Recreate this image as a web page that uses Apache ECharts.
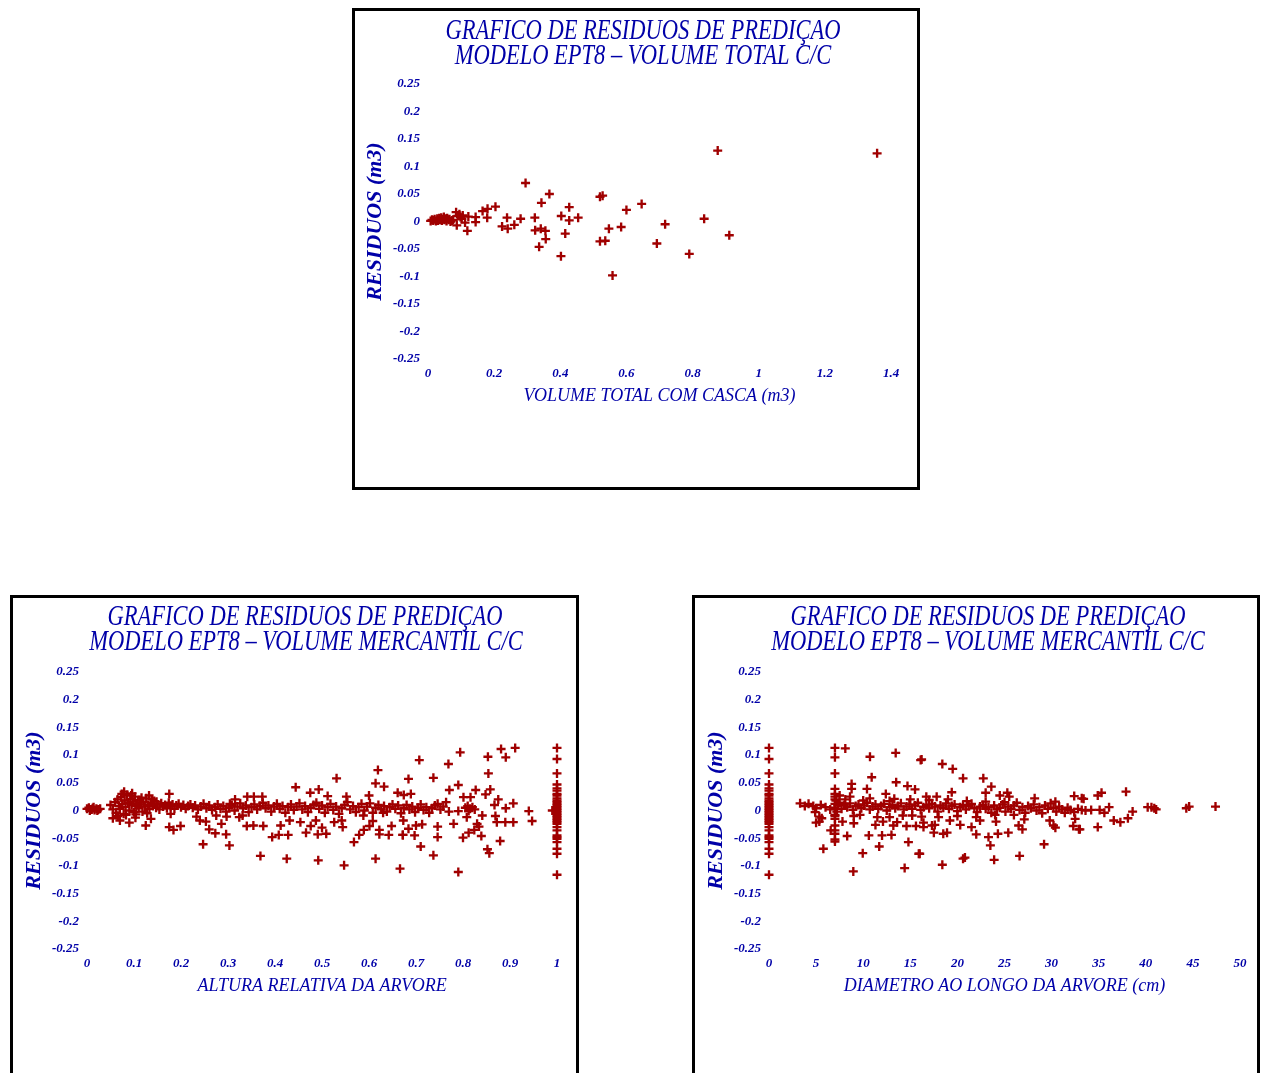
<!DOCTYPE html>
<html>
<head>
<meta charset="utf-8">
<title>Residuos de predicao EPT8</title>
<script src="https://cdn.jsdelivr.net/npm/echarts@6/dist/echarts.min.js"></script>
<style>
  html, body { margin: 0; padding: 0; background: #fff; }
  #main { width: 1261px; height: 1073px; }
</style>
</head>
<body>
<div id="main"></div>
<script>
// residuos do volume total c/c  [volume total com casca, residuo]
var volTotalResid = [
  [0.876,0.129],[1.358,0.124],[0.295,0.070],[0.367,0.050],[0.343,0.034],[0.427,0.026],[0.403,0.010],
  [0.427,0.002],[0.454,0.007],[0.520,0.045],[0.528,0.047],[0.600,0.021],[0.646,0.032],[0.717,-0.005],
  [0.835,0.005],[0.911,-0.025],[0.790,-0.059],[0.692,-0.040],[0.584,-0.010],[0.547,-0.013],[0.558,-0.098],
  [0.520,-0.036],[0.536,-0.035],[0.415,-0.022],[0.402,-0.063],[0.336,-0.046],[0.356,-0.032],[0.324,-0.016],
  [0.341,-0.013],[0.355,-0.017],[0.323,0.007],[0.280,0.005],[0.261,-0.006],[0.239,0.007],[0.241,-0.013],
  [0.224,-0.009],[0.204,0.027],[0.180,0.023],[0.165,0.019],[0.179,0.007],[0.144,0.008],[0.144,-0.001],
  [0.119,-0.017],[0.087,-0.007],[0.112,-0.002],[0.122,0.009],[0.085,0.017],[0.095,0.013],[0.102,0.005],
  [0.008,0.001],[0.012,0.003],[0.016,0.002],[0.020,0.004],[0.024,0.001],[0.028,0.005],[0.030,0.002],
  [0.034,0.006],[0.036,0.003],[0.040,0.007],[0.042,0.002],[0.045,0.004],[0.048,0.008],[0.050,0.003],
  [0.053,0.005],[0.056,0.001],[0.058,0.006],[0.062,0.003],[0.065,0.004],[0.068,0.000],[0.072,0.002],
  [0.076,0.003],[0.090,0.010],[0.098,0.008],[0.105,0.011]
];

// residuos do volume mercantil c/c pela altura relativa
var alturaCluster = [
  [0.000,0.003],[0.004,0.005],[0.008,0.002],[0.012,0.004],[0.016,0.001],[0.020,0.003],
  [0.024,0.002],[0.028,0.003],[0.006,0.000],[0.014,0.006],[0.022,0.000],[0.010,0.002]
];
var alturaBand = [
  [0.050,0.010],[0.055,0.002],[0.060,0.015],[0.062,-0.004],[0.065,0.020],[0.068,0.008],[0.070,0.003],
  [0.072,0.024],[0.075,0.012],[0.078,-0.006],[0.080,0.018],[0.082,0.006],[0.085,0.028],[0.087,0.014],
  [0.090,0.000],[0.092,0.021],[0.095,0.010],[0.098,0.016],[0.100,-0.003],[0.102,0.025],[0.105,0.008],
  [0.108,0.013],[0.110,0.004],[0.112,0.019],[0.115,0.011],[0.118,-0.002],[0.120,0.015],[0.123,0.007],
  [0.126,0.022],[0.130,0.010],[0.133,0.003],[0.136,0.014],[0.140,0.008],[0.143,0.017],[0.147,0.005],
  [0.150,0.011],[0.154,0.002],[0.158,0.013],[0.162,0.007],[0.166,0.010],[0.170,0.004],[0.174,0.014],
  [0.178,0.008],[0.182,0.011],[0.186,0.003],[0.190,0.009],[0.195,0.012],[0.200,0.006],[0.205,0.010],
  [0.210,0.003],[0.215,0.008],[0.220,0.011],[0.225,0.005],[0.230,0.009],[0.236,0.002],[0.242,0.007],
  [0.248,0.012],[0.254,0.004],[0.260,0.009],[0.266,0.001],[0.272,0.006],[0.278,0.011],[0.284,0.003],
  [0.290,0.008],[0.296,-0.002],[0.302,0.005],[0.308,0.010],[0.314,0.000],[0.320,0.007],[0.326,0.013],
  [0.332,0.004],[0.338,0.009],[0.344,-0.003],[0.350,0.006],[0.356,0.011],[0.362,0.002],[0.368,0.008],
  [0.374,0.014],[0.380,0.004],[0.386,0.009],[0.392,-0.002],[0.398,0.007],[0.404,0.012],[0.410,0.003],
  [0.416,0.008],[0.422,-0.004],[0.428,0.006],[0.434,0.011],[0.440,0.001],[0.446,0.007],[0.452,0.013],
  [0.458,0.002],[0.464,0.008],[0.470,-0.003],[0.476,0.005],[0.482,0.010],[0.488,0.014],[0.494,0.003],
  [0.500,0.009],[0.506,-0.004],[0.512,0.006],[0.518,0.012],[0.524,0.001],[0.530,0.007],[0.536,-0.006],
  [0.542,0.004],[0.548,0.010],[0.554,0.015],[0.560,0.002],[0.566,0.008],[0.572,-0.003],[0.578,0.006],
  [0.584,0.012],[0.590,0.000],[0.596,0.007],[0.602,0.013],[0.608,-0.004],[0.614,0.005],[0.620,0.010],
  [0.626,0.002],[0.632,0.008],[0.638,-0.002],[0.644,0.006],[0.650,0.011],[0.656,0.003],[0.662,0.009],
  [0.668,-0.005],[0.674,0.004],[0.680,0.010],[0.686,0.002],[0.692,0.007],[0.698,-0.003],[0.704,0.005],
  [0.710,0.011],[0.716,0.001],[0.722,0.006],[0.728,-0.004],[0.734,0.004],[0.740,0.009],[0.746,0.012],
  [0.752,0.002],[0.758,0.007],[0.764,0.015],[0.770,-0.002],[0.805,0.005],[0.810,0.008],[0.815,0.003],
  [0.820,0.006],[0.825,0.002],[0.812,-0.001],
  [0.066,-0.010],[0.074,0.030],[0.083,-0.008],[0.094,0.027],[0.104,-0.007],[0.116,0.023],[0.128,-0.005],
  [0.138,0.020],[0.148,0.016]
];
var alturaScatter = [
  [0.079,0.034],[0.096,0.031],[0.132,0.027],[0.175,0.030],[0.055,-0.014],[0.070,-0.018],[0.090,-0.022],
  [0.103,-0.013],[0.125,-0.027],[0.136,-0.015],[0.175,-0.030],[0.184,-0.035],[0.199,-0.028],[0.178,-0.006],
  [0.233,-0.011],[0.240,-0.018],[0.253,-0.020],[0.260,-0.034],[0.273,-0.041],[0.286,-0.024],[0.296,-0.043],
  [0.247,-0.061],[0.303,-0.063],[0.275,-0.009],[0.297,-0.011],[0.315,0.020],[0.304,0.012],[0.324,-0.012],
  [0.331,-0.009],
  [0.341,0.025],[0.355,0.025],[0.373,0.025],[0.444,0.042],[0.475,0.032],[0.493,0.038],[0.512,0.026],
  [0.531,0.058],[0.619,0.073],[0.614,0.049],[0.632,0.043],[0.661,0.032],[0.600,0.027],[0.552,0.025],
  [0.340,-0.028],[0.354,-0.027],[0.375,-0.028],[0.412,-0.027],[0.394,-0.048],[0.408,-0.044],[0.428,-0.044],
  [0.431,-0.018],[0.454,-0.021],[0.466,-0.040],[0.476,-0.028],[0.491,-0.043],[0.500,-0.031],[0.509,-0.042],
  [0.487,-0.018],[0.526,-0.021],[0.544,-0.030],[0.542,-0.018],[0.568,-0.057],[0.579,-0.044],[0.589,-0.035],
  [0.601,-0.028],[0.608,-0.019],[0.622,-0.035],[0.622,-0.043],[0.642,-0.044],[0.648,-0.028],[0.672,-0.044],
  [0.673,-0.018],[0.369,-0.082],[0.425,-0.087],[0.492,-0.090],[0.547,-0.099],[0.614,-0.087],[0.666,-0.105],
  [0.588,-0.009],[0.630,-0.004],
  [0.707,0.091],[0.794,0.105],[0.881,0.111],[0.911,0.113],[0.853,0.097],[0.891,0.096],[0.769,0.084],
  [0.684,0.057],[0.737,0.059],[0.854,0.067],[0.771,0.037],[0.790,0.046],[0.827,0.037],[0.858,0.038],
  [0.848,0.029],[0.801,0.024],[0.816,0.024],[0.875,0.020],[0.867,0.010],[0.907,0.013],[0.891,0.004],
  [0.940,-0.001],[0.947,-0.019],[0.689,0.030],[0.674,0.028],[0.872,-0.021],[0.890,-0.021],[0.907,-0.021],
  [0.869,-0.010],[0.841,-0.009],[0.830,-0.024],[0.834,-0.029],[0.824,-0.035],[0.812,-0.040],[0.800,-0.049],
  [0.839,-0.046],[0.879,-0.055],[0.852,-0.070],[0.856,-0.077],[0.780,-0.024],[0.746,-0.029],[0.713,-0.025],
  [0.700,-0.027],[0.684,-0.033],[0.672,-0.044],[0.697,-0.045],[0.746,-0.048],[0.710,-0.065],[0.737,-0.081],
  [0.790,-0.111],[0.808,-0.012],[0.790,-0.001],[0.990,0.000]
];
// residuos no topo da arvore (altura relativa 1, diametro 0)
var topoResid = [
  0.113,0.093,0.067,0.047,0.040,0.036,0.030,0.027,0.022,0.018,0.015,0.012,0.009,0.006,0.003,0.000,
  -0.003,-0.006,-0.009,-0.012,-0.015,-0.018,-0.021,-0.024,-0.030,-0.036,-0.045,-0.048,-0.051,-0.057,
  -0.069,-0.078,-0.116
];

// residuos do volume mercantil c/c pelo diametro (cm)
var diamBand = [
  [3.3,0.013],[3.8,0.008],[4.2,0.012],[4.7,0.008],[5.0,0.004],[5.5,0.010],[6.0,0.006],[6.5,0.002],
  [7.0,0.012],[7.0,0.005],[7.1,0.018],[7.2,-0.002],[7.3,0.009],[7.5,0.014],[7.7,0.003],[8.0,0.010],
  [8.3,0.006],[8.6,0.013],[8.9,0.001],[9.2,0.008],[9.5,0.011],[9.8,0.004],[10.1,0.009],[10.4,0.014],
  [10.7,0.002],[11.0,0.007],[11.3,0.011],[11.6,0.003],[11.9,0.008],[12.2,0.012],[12.5,0.000],[12.8,0.006],
  [13.1,0.010],[13.4,0.004],[13.7,0.008],[14.0,0.013],[14.3,0.002],[14.6,0.007],[14.9,0.011],[15.2,0.003],
  [15.5,0.009],[15.8,0.014],[16.1,0.001],[16.4,0.006],[16.7,0.010],[17.0,0.004],[17.3,0.012],[17.6,0.007],
  [17.9,-0.002],[18.2,0.009],[18.5,0.005],[18.8,0.013],[19.1,0.003],[19.4,0.008],[19.7,0.011],[20.0,-0.001],
  [20.3,0.006],[20.6,0.010],[20.9,0.002],[21.2,0.008],[21.5,0.012],[21.8,0.004],[22.1,-0.003],[22.4,0.007],
  [22.7,0.010],[23.0,0.003],[23.3,0.006],[23.6,-0.004],[23.9,0.009],[24.2,0.002],[24.5,0.005],[24.8,0.011],
  [25.1,-0.002],[25.4,0.007],[25.7,0.003],[26.0,0.009],[26.3,0.014],[26.6,0.001],[26.9,0.006],[27.2,-0.004],
  [27.5,0.008],[27.8,0.004],[28.1,0.011],[28.4,0.000],[28.7,0.006],[29.0,-0.005],[29.3,0.009],[29.6,0.003],
  [29.9,0.013],[30.2,0.005],[30.5,-0.002],[30.8,0.007],[31.1,0.002],[31.4,-0.004],[31.7,0.005],[32.0,0.001],
  [32.4,-0.003],[32.8,0.003],[33.2,0.001],[33.6,0.000],[34.2,0.001],[35.1,0.001],[35.6,-0.004],
  [7.0,-0.008],[8.1,0.020],[9.0,-0.010],[10.0,0.018],[11.5,-0.012],[12.8,0.017],[14.2,-0.009],[15.0,0.020],
  [16.2,-0.011],[17.0,0.019],[18.0,-0.012],[19.0,0.020],[20.0,-0.010],[21.0,0.017],[22.0,-0.012],[23.0,0.016],
  [24.0,-0.008],[25.0,0.015],[26.0,-0.008]
];
var diamScatter = [
  [8.10,0.112],[10.72,0.097],[13.45,0.104],[16.10,0.091],[10.9,0.060],[13.5,0.051],[8.77,0.048],[10.4,0.039],
  [8.77,0.039],[12.4,0.030],[14.7,0.044],[15.5,0.038],[7.5,0.027],[8.6,0.025],[10.7,0.022],[13.3,0.021],
  [4.9,-0.003],[5.34,-0.011],[5.34,-0.020],[5.0,-0.022],[5.6,-0.014],[5.77,-0.069],[6.55,-0.036],[7.8,-0.020],
  [8.3,-0.046],[9.0,-0.023],[9.95,-0.077],[8.95,-0.110],[10.6,-0.045],[11.7,-0.065],[11.3,-0.026],[12.0,-0.045],
  [13.0,-0.044],[12.1,-0.020],[13.2,-0.027],[13.6,-0.021],[14.8,-0.057],[14.4,-0.104],[15.9,-0.078],[14.6,-0.028],
  [15.6,-0.028],[15.2,-0.009],[16.4,-0.030],[9.66,-0.008],[12.8,-0.012],
  [7.0,0.113],[7.0,0.096],[7.0,0.067],[7.0,0.039],[7.0,0.030],[7.0,0.025],[7.0,0.020],[7.0,-0.010],
  [7.0,-0.015],[7.0,-0.027],[7.0,-0.036],[7.0,-0.042],[7.0,-0.052],[7.0,-0.056],
  [16.2,0.092],[18.4,0.084],[19.5,0.075],[20.6,0.058],[22.75,0.058],[23.6,0.043],[19.4,0.033],[23.0,0.032],
  [24.5,0.027],[25.3,0.032],[25.5,0.025],[28.2,0.022],[30.4,0.016],[32.4,0.026],[33.2,0.022],[16.7,0.025],
  [17.8,0.025],[17.3,-0.027],[17.6,-0.026],[16.4,-0.022],[18.5,-0.042],[18.9,-0.040],[17.5,-0.040],[19.2,-0.018],
  [20.3,-0.026],[21.5,-0.030],[22.0,-0.043],[22.4,-0.018],[23.3,-0.048],[23.5,-0.063],[24.1,-0.020],[24.3,-0.042],
  [25.4,-0.040],[26.5,-0.027],[26.9,-0.034],[27.1,-0.016],[29.2,-0.061],[29.8,-0.018],[30.2,-0.027],[30.4,-0.031],
  [32.3,-0.028],[32.9,-0.034],[32.5,-0.015],[16.0,-0.078],[18.4,-0.098],[20.6,-0.087],[20.8,-0.085],[23.9,-0.089],
  [26.6,-0.082],
  [33.4,0.021],[34.9,0.027],[35.3,0.032],[37.9,0.034],[36.1,0.006],[38.6,-0.002],[36.6,-0.018],[37.3,-0.021],
  [38.1,-0.014],[34.9,-0.030],[33.0,-0.034],[40.2,0.006],[40.6,0.006],[40.9,0.004],[41.1,0.002],[44.3,0.004],
  [44.6,0.007],[47.4,0.007]
];

var titulo1 = 'GRAFICO DE RESIDUOS DE PREDIÇAO';
var tituloTotal = 'MODELO EPT8 – VOLUME TOTAL C/C';
var tituloMerc = 'MODELO EPT8 – VOLUME MERCANTIL C/C';

var azul = '#0000a8';
var vermelho = '#a00000';
// cruz "+" um pouco mais grossa, como no grafico original
var plus = 'path://M3.7,0 H6.3 V3.7 H10 V6.3 H6.3 V10 H3.7 V6.3 H0 V3.7 H3.7 Z';

var chart = echarts.init(document.getElementById('main'));

function eixoY(gridIndex) {
  return {
    type: 'value', gridIndex: gridIndex,
    min: -0.25, max: 0.25, interval: 0.05,
    name: 'RESIDUOS (m3)', nameLocation: 'middle', nameGap: 42,
    nameTextStyle: { color: azul, fontFamily: 'Liberation Serif', fontStyle: 'italic', fontWeight: 'bold', fontSize: 22 },
    axisLine: { show: false }, axisTick: { show: false }, splitLine: { show: false },
    axisLabel: { color: azul, fontFamily: 'Liberation Serif', fontStyle: 'italic', fontWeight: 'bold', fontSize: 13, margin: 8 }
  };
}
function eixoX(gridIndex, max, interval, nome) {
  return {
    type: 'value', gridIndex: gridIndex,
    min: 0, max: max, interval: interval,
    name: nome, nameLocation: 'middle', nameGap: 28,
    nameTextStyle: { color: azul, fontFamily: 'Liberation Serif', fontStyle: 'italic', fontSize: 18 },
    axisLine: { show: false }, axisTick: { show: false }, splitLine: { show: false },
    axisLabel: { color: azul, fontFamily: 'Liberation Serif', fontStyle: 'italic', fontWeight: 'bold', fontSize: 13, margin: 8 }
  };
}
function tituloTexto(x, y, txt) {
  return {
    type: 'text', x: x, y: y, scaleX: 0.75, z: 10,
    style: { text: txt, fill: azul, font: 'italic 30px "Liberation Serif"', align: 'center', verticalAlign: 'middle' }
  };
}
function moldura(x, y, w, h) {
  return {
    type: 'rect', shape: { x: x, y: y, width: w, height: h },
    style: { fill: null, stroke: '#000', lineWidth: 3 }
  };
}

chart.setOption({
  backgroundColor: '#fff',
  animation: false,
  grid: [
    { left: 428, top: 84, width: 463, height: 275 },
    { left: 87, top: 672, width: 470, height: 277 },
    { left: 769, top: 672, width: 471, height: 277 }
  ],
  xAxis: [
    eixoX(0, 1.4, 0.2, 'VOLUME TOTAL COM CASCA (m3)'),
    eixoX(1, 1, 0.1, 'ALTURA RELATIVA DA ARVORE'),
    eixoX(2, 50, 5, 'DIAMETRO AO LONGO DA ARVORE (cm)')
  ],
  yAxis: [eixoY(0), eixoY(1), eixoY(2)],
  graphic: [
    moldura(353.5, 9.5, 565, 479),
    moldura(11.5, 596.5, 566, 520),
    moldura(693.5, 596.5, 565, 520),
    tituloTexto(643, 31, titulo1),
    tituloTexto(643, 56, tituloTotal),
    tituloTexto(305, 617, titulo1),
    tituloTexto(306, 642, tituloMerc),
    tituloTexto(988, 617, titulo1),
    tituloTexto(988, 642, tituloMerc)
  ],
  series: [
    {
      type: 'scatter', xAxisIndex: 0, yAxisIndex: 0,
      symbol: plus, symbolSize: 9, itemStyle: { color: vermelho, opacity: 1 },
      data: volTotalResid
    },
    {
      type: 'scatter', xAxisIndex: 1, yAxisIndex: 1,
      symbol: plus, symbolSize: 9, itemStyle: { color: vermelho, opacity: 1 },
      data: alturaCluster.concat(alturaBand, alturaScatter, topoResid.map(function (r) { return [1, r]; }))
    },
    {
      type: 'scatter', xAxisIndex: 2, yAxisIndex: 2,
      symbol: plus, symbolSize: 9, itemStyle: { color: vermelho, opacity: 1 },
      data: diamBand.concat(diamScatter, topoResid.map(function (r) { return [0, r]; }))
    }
  ]
});
</script>
</body>
</html>
